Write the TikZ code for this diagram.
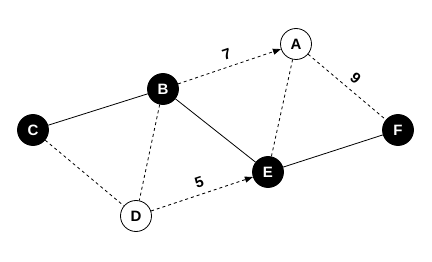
\documentclass[tikz,border=0pt]{standalone}
\usepackage{fontspec}
\setmainfont{Liberation Sans}
\usetikzlibrary{arrows.meta}
\tikzset{
  vb/.style={circle,draw=black,fill=black,line width=0.8pt,minimum size=31pt,inner sep=0pt,text=white,font=\fontsize{15}{17}\selectfont\bfseries},
  vw/.style={circle,draw=black,fill=white,line width=0.8pt,minimum size=31pt,inner sep=0pt,text=black,font=\fontsize{15}{17}\selectfont\bfseries},
  solidedge/.style={line width=0.8pt},
  dashedge/.style={line width=0.8pt,dash pattern=on 3pt off 3pt},
  arr/.style={-{Triangle[length=8pt,width=6pt]}},
  wlabel/.style={font=\fontsize{15}{17}\selectfont\bfseries,sloped,above,inner sep=6.5pt}
}
\begin{document}
\begin{tikzpicture}[x=1pt,y=-1pt]
\useasboundingbox (0,0) rectangle (432,262);
\node[vw] (A) at (296,44) {A};
\node[vb] (B) at (163,89) {B};
\node[vb] (C) at (33,130) {C};
\node[vw] (D) at (136,216) {D};
\node[vb] (E) at (268,172) {E};
\node[vb] (F) at (398,130) {F};
\draw[solidedge] (C) -- (B);
\draw[solidedge] (B) -- (E);
\draw[solidedge] (E) -- (F);
\draw[dashedge] (C) -- (D);
\draw[dashedge] (B) -- (D);
\draw[dashedge] (A) -- (E);
\draw[dashedge,arr] (B) -- node[wlabel,pos=0.51] {7} (A);
\draw[dashedge,arr] (D) -- node[wlabel,pos=0.51] {5} (E);
\draw[dashedge] (A) -- node[wlabel,pos=0.51] {9} (F);
\end{tikzpicture}
\end{document}
